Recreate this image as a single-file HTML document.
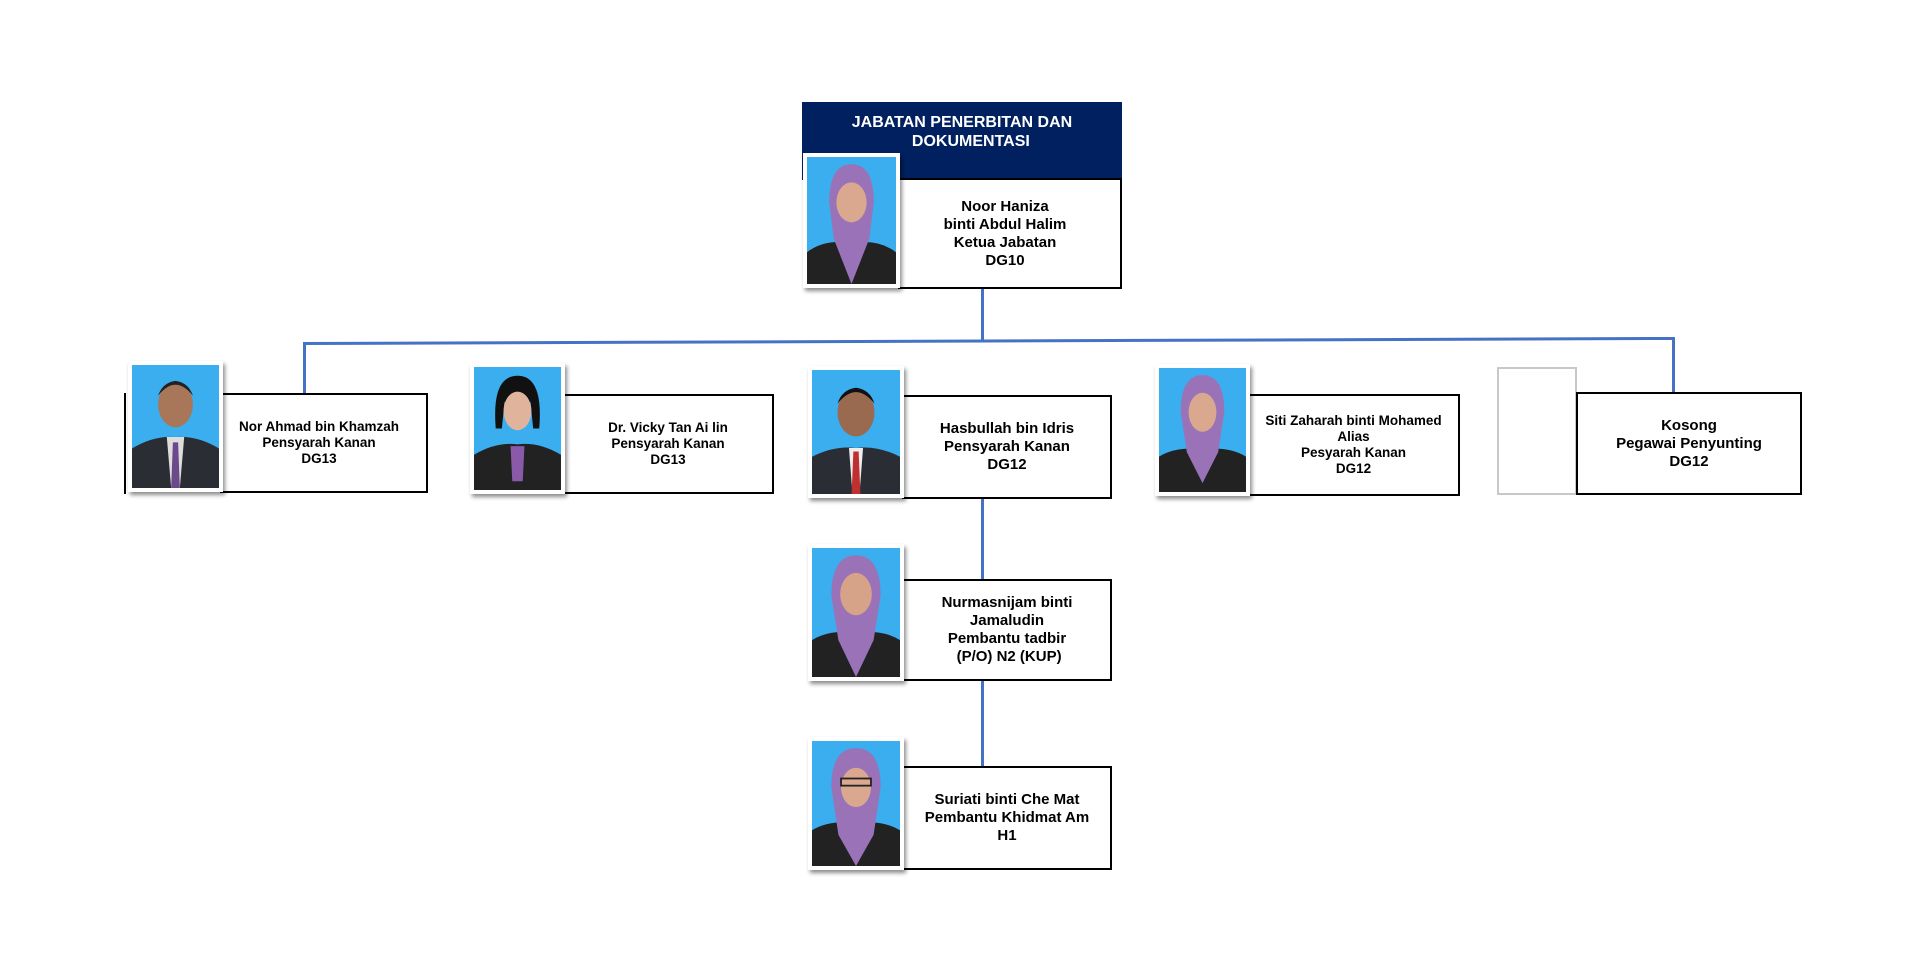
<!DOCTYPE html>
<html><head><meta charset="utf-8"><style>
body{margin:0;width:1920px;height:960px;background:#fff;position:relative;overflow:hidden;font-family:"Liberation Sans",Arial,sans-serif}
.a{position:absolute}
.box{position:absolute;border:2px solid #000;box-sizing:border-box;background:#fff;display:flex;align-items:center;justify-content:center;text-align:center;font-weight:bold;font-size:15px;line-height:18px;color:#000}
.sm{font-size:13.5px;line-height:16px}
.ph{position:absolute;box-sizing:border-box;border:4px solid #fff;background:#3aaeee;box-shadow:2px 3px 4px rgba(0,0,0,.45);overflow:hidden}
.ph svg{position:absolute;left:0;top:0;width:100%;height:100%}
.ln{position:absolute;background:#4472c4}
</style></head><body>
<!-- connectors -->
<div class="ln" style="left:981px;top:288px;width:3px;height:53px"></div>
<div class="ln" style="left:303px;top:342px;width:1372px;height:3px;transform:rotate(-0.21deg);transform-origin:left"></div>
<div class="ln" style="left:303px;top:343px;width:3px;height:51px"></div>
<div class="ln" style="left:1672px;top:337px;width:3px;height:56px"></div>
<div class="ln" style="left:981px;top:497px;width:3px;height:83px"></div>
<div class="ln" style="left:981px;top:680px;width:3px;height:88px"></div>

<!-- top -->
<div class="a" style="left:802px;top:102px;width:320px;height:78px;background:#002060;color:#fff;font-weight:bold;font-size:16px;line-height:19px;text-align:center"><div style="padding-top:11px">JABATAN PENERBITAN DAN<br>&nbsp;&nbsp;&nbsp;&nbsp;DOKUMENTASI</div></div>
<div class="box" style="left:898px;top:178px;width:224px;height:111px"><div style="padding-right:10px">Noor Haniza<br>binti Abdul Halim<br>Ketua Jabatan<br>DG10</div></div>
<div class="ph" style="left:803px;top:153px;width:97px;height:135px"><svg viewBox="0 0 100 140" preserveAspectRatio="none"><path d="M0 140 L0 105 Q20 90 50 95 Q80 90 100 105 L100 140Z" fill="#222"/><path d="M25 50 Q25 8 50 8 Q75 8 75 50 L70 90 L50 140 L30 90Z" fill="#9a72b8"/><ellipse cx="50" cy="50" rx="17" ry="22" fill="#d9a88f"/></svg></div>

<!-- row 2 -->
<div class="a" style="left:124px;top:393px;width:2px;height:101px;background:#000"></div>
<div class="box sm" style="left:220px;top:393px;width:208px;height:100px"><div style="padding-right:10px">Nor Ahmad bin Khamzah<br>Pensyarah Kanan<br>DG13</div></div>
<div class="ph" style="left:128px;top:361px;width:95px;height:131px"><svg viewBox="0 0 100 140" preserveAspectRatio="none"><path d="M0 140 L0 95 Q25 80 50 82 Q75 80 100 95 L100 140Z" fill="#2a2d33"/><path d="M40 82 L60 82 L55 140 L45 140Z" fill="#ddd"/><path d="M47 88 L53 88 L55 140 L45 140Z" fill="#6a4a8a"/><ellipse cx="50" cy="45" rx="20" ry="26" fill="#a8775a"/><path d="M30 35 Q50 10 70 35 Q65 20 50 18 Q35 20 30 35Z" fill="#222"/></svg></div>

<div class="box sm" style="left:562px;top:394px;width:212px;height:100px">Dr. Vicky Tan Ai lin<br>Pensyarah Kanan<br>DG13</div>
<div class="ph" style="left:470px;top:363px;width:95px;height:131px"><svg viewBox="0 0 100 140" preserveAspectRatio="none"><path d="M0 140 L0 100 Q25 85 50 88 Q75 85 100 100 L100 140Z" fill="#222"/><path d="M42 90 L58 90 L56 130 L44 130Z" fill="#8a5aa8"/><path d="M25 70 Q20 10 50 10 Q80 10 75 70 L68 70 L65 40 L35 40 L32 70Z" fill="#111"/><ellipse cx="50" cy="50" rx="16" ry="22" fill="#e0b39c"/></svg></div>

<div class="box" style="left:902px;top:395px;width:210px;height:104px">Hasbullah bin Idris<br>Pensyarah Kanan<br>DG12</div>
<div class="ph" style="left:808px;top:366px;width:96px;height:132px"><svg viewBox="0 0 100 140" preserveAspectRatio="none"><path d="M0 140 L0 98 Q25 85 50 88 Q75 85 100 98 L100 140Z" fill="#2a2d33"/><path d="M42 88 L58 88 L54 140 L46 140Z" fill="#eee"/><path d="M47 92 L53 92 L55 140 L45 140Z" fill="#c03030"/><ellipse cx="50" cy="48" rx="21" ry="27" fill="#9a6a50"/><path d="M29 38 Q50 12 71 38 Q66 22 50 20 Q34 22 29 38Z" fill="#111"/></svg></div>

<div class="box sm" style="left:1247px;top:394px;width:213px;height:102px">Siti Zaharah binti Mohamed<br>Alias<br>Pesyarah Kanan<br>DG12</div>
<div class="ph" style="left:1155px;top:364px;width:95px;height:132px"><svg viewBox="0 0 100 140" preserveAspectRatio="none"><path d="M0 140 L0 100 Q20 88 50 92 Q80 88 100 100 L100 140Z" fill="#222"/><path d="M25 50 Q25 8 50 8 Q75 8 75 50 L68 95 L50 130 L32 95Z" fill="#9a72b8"/><ellipse cx="50" cy="50" rx="16" ry="22" fill="#d9a88f"/></svg></div>

<div class="a" style="left:1497px;top:367px;width:80px;height:128px;box-sizing:border-box;border:2px solid #c8c8c8;background:#fff"></div>
<div class="box" style="left:1576px;top:392px;width:226px;height:103px">Kosong<br>Pegawai Penyunting<br>DG12</div>

<!-- row 3 -->
<div class="box" style="left:902px;top:579px;width:210px;height:102px">Nurmasnijam binti<br>Jamaludin<br>Pembantu tadbir<br>&nbsp;(P/O) N2 (KUP)</div>
<div class="ph" style="left:808px;top:544px;width:96px;height:137px"><svg viewBox="0 0 100 140" preserveAspectRatio="none"><path d="M0 140 L0 100 Q20 88 50 92 Q80 88 100 100 L100 140Z" fill="#222"/><path d="M22 52 Q22 8 50 8 Q78 8 78 52 L70 100 L50 140 L30 100Z" fill="#9a72b8"/><ellipse cx="50" cy="50" rx="18" ry="23" fill="#d6a288"/></svg></div>

<div class="box" style="left:902px;top:766px;width:210px;height:104px">Suriati binti Che Mat<br>Pembantu Khidmat Am<br>H1</div>
<div class="ph" style="left:808px;top:737px;width:96px;height:133px"><svg viewBox="0 0 100 140" preserveAspectRatio="none"><path d="M0 140 L0 100 Q20 88 50 92 Q80 88 100 100 L100 140Z" fill="#222"/><path d="M22 52 Q22 8 50 8 Q78 8 78 52 L70 105 L50 140 L30 105Z" fill="#9a72b8"/><ellipse cx="50" cy="52" rx="17" ry="22" fill="#d9a88f"/><rect x="33" y="42" width="34" height="8" fill="none" stroke="#222" stroke-width="2"/></svg></div>
</body></html>
